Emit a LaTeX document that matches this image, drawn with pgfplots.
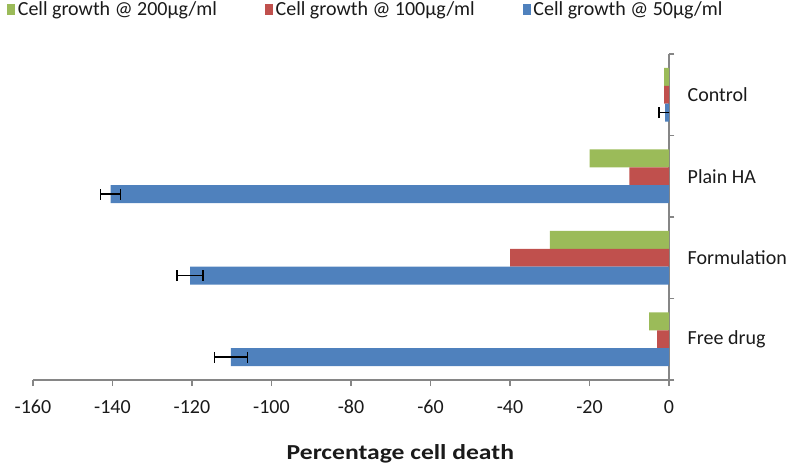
\documentclass[border=0pt]{standalone}
\usepackage{pgfplots}
\pgfplotsset{compat=1.18}
\usepackage{fontspec}
\setmainfont{Carlito}
\newfontfamily\widefont{Carlito}[FakeStretch=1.2]
\definecolor{exblue}{HTML}{4F81BD}
\definecolor{exred}{HTML}{C0504D}
\definecolor{exgreen}{HTML}{9BBB59}
\definecolor{axgray}{HTML}{868686}
\definecolor{txt}{HTML}{1A1A1A}
\newcommand{\legfont}{\fontsize{15pt}{17pt}\selectfont}
\begin{document}
\begin{tikzpicture}
\begin{axis}[
  name=ax,
  scale only axis,
  width=477pt, height=244.5pt,
  xbar, bar width=0.22,
  xmin=-160, xmax=0,
  ymin=-0.5, ymax=3.5,
  axis x line=bottom, axis y line=right,
  axis line style={axgray, line width=0.8pt, -},
  xtick={-160,-140,...,0},
  ytick={0,1,2,3},
  yticklabels={Free drug, Formulation, Plain HA, Control},
  minor ytick={-0.5,0.5,1.5,2.5,3.5},
  major tick length=4.5pt,
  minor tick length=4pt,
  tick align=outside,
  major x tick style={axgray, line width=0.8pt},
  major y tick style={draw=none},
  minor y tick style={axgray, line width=0.8pt},
  /pgf/number format/assume math mode=true,
  xticklabel style={font=\fontsize{15pt}{17pt}\selectfont, text=txt, yshift=-7pt},
  yticklabel style={font=\fontsize{15pt}{17pt}\selectfont, text=txt, xshift=6pt},
  xlabel={\widefont\bfseries Percentage cell death},
  xlabel style={font=\fontsize{16pt}{18pt}\selectfont, text=txt, yshift=-16pt, xshift=37pt},
  legend columns=3,
  legend style={at={(-0.041,1.17)}, anchor=north west, draw=none, inner sep=0pt,
    text=txt,
    /tikz/every even column/.append style={column sep=34pt}},
  legend image code/.code={\fill (0pt,-4pt) rectangle (6pt,4pt);},
]
\addplot[draw=none, fill=exgreen, bar shift=0.22] coordinates {(-5,0) (-30,1) (-20,2) (-1.2,3)};
\addlegendentry{\legfont Cell growth @ 200µg/ml}
\addplot[draw=none, fill=exred, bar shift=0] coordinates {(-3,0) (-40,1) (-10,2) (-1.2,3)};
\addlegendentry{\legfont Cell growth @ 100µg/ml}
\addplot[draw=none, fill=exblue, bar shift=-0.22,
  error bars/.cd, x dir=both, x explicit,
  error bar style={black, line width=1.1pt},
  error mark options={black, line width=1.1pt, mark size=4pt, rotate=90}]
  coordinates {(-110.2,0) +- (4.2,0) (-120.5,1) +- (3.3,0) (-140.5,2) +- (2.5,0) (-1,3) +- (1.5,0)};
\addlegendentry{\legfont Cell growth @ 50µg/ml}
\end{axis}
\pgfresetboundingbox
\path (-24.75pt,-63.75pt) rectangle (568.5pt,285pt);
\end{tikzpicture}
\end{document}
